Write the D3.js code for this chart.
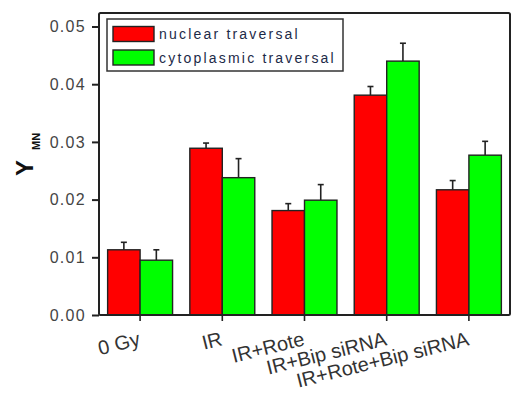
<!DOCTYPE html>
<html><head><meta charset="utf-8">
<script src="https://cdn.jsdelivr.net/npm/d3@7"></script>
<style>body{margin:0;background:#fff}svg{display:block}</style>
</head><body>
<svg id="c" width="517" height="406"></svg>
<script>
const categories = ["0 Gy","IR","IR+Rote","IR+Bip siRNA","IR+Rote+Bip siRNA"];
const seriesNames = ["nuclear traversal","cytoplasmic traversal"];
const seriesColors = ["#ff0000","#00ff00"];
const nuclear = [0.0113,0.0289,0.0181,0.0381,0.0217];
const nuclearErr = [0.0013,0.0009,0.0012,0.0015,0.0016];
const cyto = [0.0095,0.0238,0.0199,0.0440,0.0277];
const cytoErr = [0.0018,0.0033,0.0027,0.0031,0.0024];
const yTicks = [0,0.01,0.02,0.03,0.04,0.05];

const svg = d3.select("#c");
const L=99,R=510,T=13,B=315;
const x = d3.scaleBand().domain(categories).range([L,R]).padding(0);
const y = d3.scaleLinear().domain([0,0.05234]).range([B,T]);
const bw = x.bandwidth()*0.395;

const series = [
  {vals:nuclear, err:nuclearErr, off:-bw, color:seriesColors[0]},
  {vals:cyto, err:cytoErr, off:0, color:seriesColors[1]}
];

series.forEach(s=>{
  const g = svg.append("g");
  categories.forEach((c,i)=>{
    const cx = x(c)+x.bandwidth()/2+s.off;
    g.append("line").attr("x1",cx+bw/2).attr("x2",cx+bw/2)
      .attr("y1",y(s.vals[i])).attr("y2",y(s.vals[i]+s.err[i]))
      .attr("stroke","#222").attr("stroke-width",1.6);
    g.append("line").attr("x1",cx+bw/2-3).attr("x2",cx+bw/2+3)
      .attr("y1",y(s.vals[i]+s.err[i])).attr("y2",y(s.vals[i]+s.err[i]))
      .attr("stroke","#222").attr("stroke-width",1.6);
    g.append("rect").attr("x",cx).attr("y",y(s.vals[i]))
      .attr("width",bw).attr("height",y(0)-y(s.vals[i]))
      .attr("fill",s.color).attr("stroke","#222").attr("stroke-width",1.4);
  });
});

// frame
svg.append("rect").attr("x",L).attr("y",T).attr("width",R-L).attr("height",B-T)
  .attr("fill","none").attr("stroke","#222").attr("stroke-width",2).attr("rx",1.5);

// y axis
const ya = svg.append("g").attr("transform",`translate(${L},0)`)
  .call(d3.axisLeft(y).tickValues(yTicks).tickFormat(d3.format(".2f")).tickSize(7).tickPadding(6));
ya.select(".domain").remove();
ya.selectAll(".tick line").attr("stroke","#222").attr("stroke-width",2);
ya.selectAll(".tick text").attr("font-family","Liberation Sans, Arial, sans-serif")
  .attr("font-size",16).attr("fill","#444").style("letter-spacing","1.3px");

// x axis
const xa = svg.append("g").attr("transform",`translate(0,${B})`)
  .call(d3.axisBottom(x).tickSize(6).tickSizeOuter(0).tickPadding(0));
xa.select(".domain").remove();
xa.selectAll(".tick line").attr("stroke","#222").attr("stroke-width",1.6);
xa.selectAll(".tick text").attr("font-family","Liberation Sans, Arial, sans-serif")
  .attr("font-size",20).attr("fill","#333").attr("text-anchor","end")
  .attr("dy",null).attr("y",0)
  .attr("transform","translate(1,30) rotate(-14)");

// y title
const yt = svg.append("text").attr("transform","translate(33,176) rotate(-90)")
  .attr("font-family","Liberation Sans, Arial, sans-serif").attr("font-weight","bold").attr("fill","#111");
yt.append("tspan").attr("font-size",24).text("Y");
yt.append("tspan").attr("font-size",11).attr("dx",10).attr("dy",7).text("MN");

// legend
const lg = svg.append("g");
lg.append("rect").attr("x",107).attr("y",19).attr("width",236).attr("height",52)
  .attr("fill","#fff").attr("stroke","#333").attr("stroke-width",1.5);
seriesNames.forEach((n,i)=>{
  const yy = 34 + i*23.5;
  lg.append("rect").attr("x",113).attr("y",yy-7.5).attr("width",41).attr("height",15)
    .attr("fill",seriesColors[i]).attr("stroke","#222").attr("stroke-width",1.4);
  lg.append("text").attr("x",159).attr("y",yy+5).text(n)
    .attr("font-family","Liberation Sans, Arial, sans-serif").attr("font-size",14)
    .attr("fill","#1c2a48").style("letter-spacing","2.2px");
});
</script>
</body></html>
